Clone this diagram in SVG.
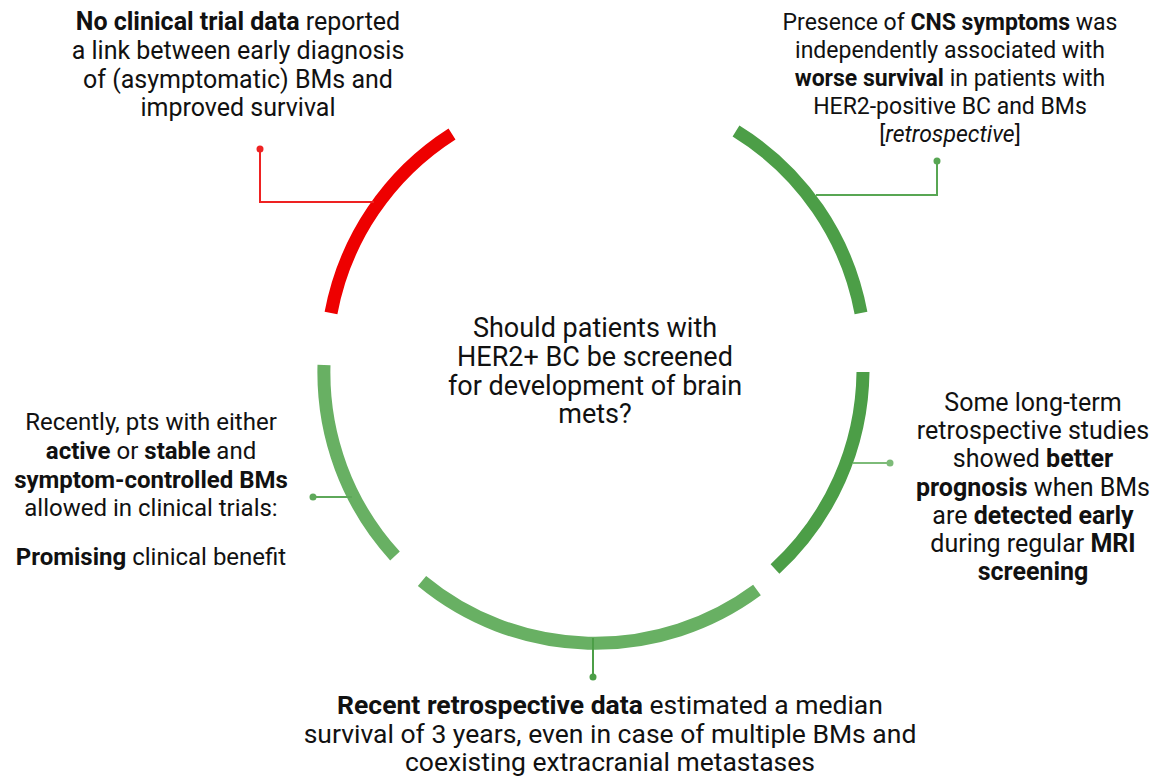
<svg xmlns="http://www.w3.org/2000/svg" width="1154" height="778" viewBox="0 0 1154 778">
<style>
text{font-family:Roboto,"Liberation Sans",sans-serif;fill:#111;text-anchor:middle}
#center text{font-size:27px}
#note-top-left text{font-size:25px}
#note-top-right text{font-size:23px}
#note-right text{font-size:25px}
#note-left text{font-size:24px}
#note-bottom text{font-size:26.5px}
.b{font-weight:700}
.i{font-style:italic}
.arc{fill:none;stroke-width:13}
.red{stroke:#ee0000}
.dg{stroke:#4c9e47}
.lg{stroke:#68b063}
.con{fill:none;stroke-width:2}
</style>
<rect width="1154" height="778" fill="#fff"/>
<g id="arcs">
<path class="arc red" d="M331,313 A272,272 0 0 1 452,134"/>
<path class="arc dg" d="M736,131 A272,272 0 0 1 861,313"/>
<path class="arc dg" d="M863,372 A272,272 0 0 1 775,569"/>
<path class="arc lg" d="M757,590 A272,272 0 0 1 422,581"/>
<path class="arc lg" d="M395,556 A272,272 0 0 1 324,365"/>
</g>
<g id="connectors">
<polyline class="con" stroke="#ee2222" points="260,149 260,202 374,202"/>
<circle cx="260" cy="149" r="3.5" fill="#ee2222"/>
<polyline class="con" stroke="#58a653" points="937,161 937,195 816,195"/>
<circle cx="937" cy="161" r="3.5" fill="#58a653"/>
<polyline class="con" stroke="#7dbb78" points="890,463 853,463"/>
<circle cx="890" cy="463" r="3.5" fill="#7dbb78"/>
<polyline class="con" stroke="#5ea85a" points="313,497 352,497"/>
<circle cx="313" cy="497" r="3.5" fill="#5ea85a"/>
<polyline class="con" stroke="#4c9e47" points="593,677 593,638"/>
<circle cx="593" cy="677" r="3.5" fill="#4c9e47"/>
</g>
<g id="center">
<text x="595" y="337">Should patients with</text>
<text x="595" y="366">HER2+ BC be screened</text>
<text x="595" y="395">for development of brain</text>
<text x="595" y="423">mets?</text>
</g>
<g id="note-top-left">
<text x="238" y="30"><tspan class="b">No clinical trial data</tspan> reported</text>
<text x="238" y="59">a link between early diagnosis</text>
<text x="238" y="88">of (asymptomatic) BMs and</text>
<text x="238" y="116">improved survival</text>
</g>
<g id="note-top-right">
<text x="950" y="30">Presence of <tspan class="b">CNS symptoms</tspan> was</text>
<text x="950" y="58">independently associated with</text>
<text x="950" y="86"><tspan class="b">worse survival</tspan> in patients with</text>
<text x="950" y="114">HER2-positive BC and BMs</text>
<text x="950" y="142">[<tspan class="i">retrospective</tspan>]</text>
</g>
<g id="note-right">
<text x="1033" y="411">Some long-term</text>
<text x="1033" y="439">retrospective studies</text>
<text x="1033" y="467">showed <tspan class="b">better</tspan></text>
<text x="1033" y="496"><tspan class="b">prognosis</tspan> when BMs</text>
<text x="1033" y="524">are <tspan class="b">detected early</tspan></text>
<text x="1033" y="552">during regular <tspan class="b">MRI</tspan></text>
<text x="1033" y="580" class="b">screening</text>
</g>
<g id="note-left">
<text x="151" y="430">Recently, pts with either</text>
<text x="151" y="459"><tspan class="b">active</tspan> or <tspan class="b">stable</tspan> and</text>
<text x="151" y="488" class="b">symptom-controlled BMs</text>
<text x="151" y="516">allowed in clinical trials:</text>
<text x="151" y="565"><tspan class="b">Promising</tspan> clinical benefit</text>
</g>
<g id="note-bottom">
<text x="610" y="714"><tspan class="b">Recent retrospective data</tspan> estimated a median</text>
<text x="610" y="743">survival of 3 years, even in case of multiple BMs and</text>
<text x="610" y="771">coexisting extracranial metastases</text>
</g>
</svg>
